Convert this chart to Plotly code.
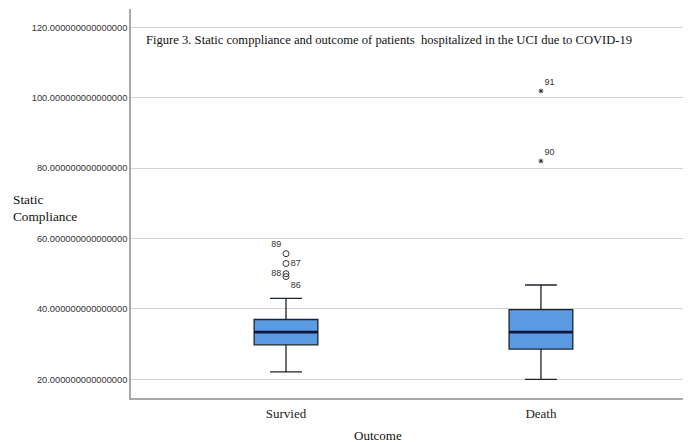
import plotly.graph_objects as go

# ---- data ----
categories = ["Survied", "Death"]
cat_pos = [0, 1]
q1_vals = [29.8, 28.6]
median_vals = [33.4, 33.4]
q3_vals = [37.0, 39.8]
lower_whisker = [22.1, 20.0]
upper_whisker = [43.0, 46.8]

surv_out_y = [55.7, 52.9, 50.0, 49.2]
surv_out_labels = ["89", "87", "88", "86"]
surv_out_textpos = ["top left", "middle right", "middle left", "bottom right"]

death_out_y = [101.9, 82.0]
death_out_labels = ["91", "90"]

y_ticks = [20, 40, 60, 80, 100, 120]
y_tick_labels = [f"{v}.000000000000000" for v in y_ticks]

title_text = "Figure 3. Static comppliance and outcome of patients  hospitalized in the UCI due to COVID-19"

BOX_W = 0.25
serif = "Liberation Serif, Times New Roman, serif"
sans = "Liberation Sans, Arial, sans-serif"

fig = go.Figure()

for i, name in enumerate(categories):
    fig.add_trace(go.Box(
        x=[cat_pos[i]], q1=[q1_vals[i]], median=[median_vals[i]], q3=[q3_vals[i]],
        lowerfence=[lower_whisker[i]], upperfence=[upper_whisker[i]],
        width=BOX_W, whiskerwidth=0.5,
        fillcolor="#5b9be3", line=dict(color="#1c2330", width=1.3),
        boxpoints=False, showlegend=False, hoverinfo="skip", name=name,
    ))
    # thick median line
    fig.add_trace(go.Scatter(
        x=[cat_pos[i] - BOX_W / 2, cat_pos[i] + BOX_W / 2],
        y=[median_vals[i], median_vals[i]],
        mode="lines", line=dict(color="#0e1640", width=2.6),
        showlegend=False, hoverinfo="skip",
    ))

# survived outliers (circles)
fig.add_trace(go.Scatter(
    x=[cat_pos[0]] * len(surv_out_y), y=surv_out_y,
    mode="markers+text", text=surv_out_labels, textposition=surv_out_textpos,
    textfont=dict(family=sans, size=9, color="#333333"),
    marker=dict(symbol="circle-open", size=6, color="#333333", line=dict(width=1)),
    showlegend=False, hoverinfo="skip",
))
# death extremes (stars)
fig.add_trace(go.Scatter(
    x=[cat_pos[1]] * len(death_out_y), y=death_out_y,
    mode="markers+text", text=death_out_labels, textposition="top right",
    textfont=dict(family=sans, size=9, color="#333333"),
    marker=dict(symbol="asterisk-open", size=4, color="#333333", line=dict(width=1)),
    showlegend=False, hoverinfo="skip",
))

fig.update_layout(
    width=691, height=442,
    margin=dict(l=123, r=0, t=1, b=52),
    paper_bgcolor="white", plot_bgcolor="white",
    xaxis=dict(
        range=[-0.608, 1.62], tickvals=cat_pos, ticktext=categories,
        showgrid=False, zeroline=False, showline=True, linecolor="#a8a8a8", linewidth=1.5,
        ticks="", ticklabelstandoff=3, tickfont=dict(family=serif, size=13, color="#222222"),
    ),
    yaxis=dict(
        range=[14.7, 125.2], tickvals=y_ticks, ticktext=y_tick_labels,
        showgrid=True, gridcolor="#d2d2d2", gridwidth=1, zeroline=False,
        showline=True, linecolor="#a8a8a8", linewidth=1.5, ticks="",
        tickfont=dict(family=sans, size=9.3, color="#333333"),
    ),
    annotations=[
        dict(text=title_text, xref="paper", yref="paper", x=0.0228, y=0.920,
             xanchor="left", yanchor="middle", showarrow=False,
             font=dict(family=serif, size=12.6, color="#111111")),
        dict(text="Static<br>Compliance", xref="paper", yref="paper", x=-0.212, y=0.488,
             xanchor="left", yanchor="middle", align="left", showarrow=False,
             font=dict(family=serif, size=13.3, color="#111111")),
        dict(text="Outcome", xref="paper", yref="paper", x=0.434, y=-0.0964,
             xanchor="center", yanchor="middle", showarrow=False,
             font=dict(family=serif, size=13, color="#111111")),
    ],
)

fig.write_html("out.html")
